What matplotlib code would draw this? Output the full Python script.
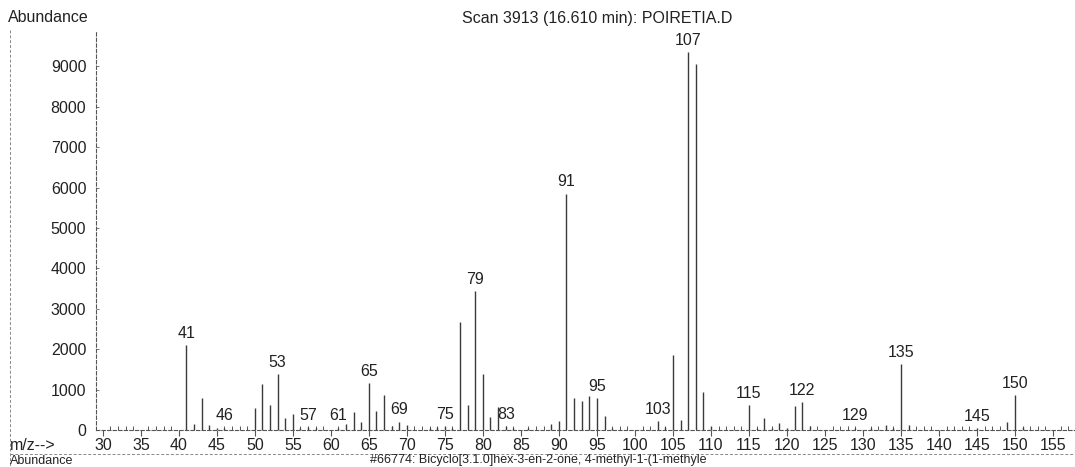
"""
Mass spectrum, scan 3913 of POIRETIA.D, redrawn with matplotlib
"""
from matplotlib import pyplot as plt
from matplotlib.lines import Line2D

# m/z of each ion and its abundance
mz = [41, 42, 43, 44, 45, 46, 50, 51, 52, 53, 54, 55, 56, 57, 58, 61, 62, 63,
      64, 65, 66, 67, 68, 69, 70, 73, 74, 75, 76, 77, 78, 79, 80, 81, 82, 83,
      84, 86, 89, 90, 91, 92, 93, 94, 95, 96, 97, 103, 104, 105, 106, 107,
      108, 109, 110, 115, 116, 117, 118, 119, 120, 121, 122, 123, 129, 131,
      133, 134, 135, 136, 145, 149, 150, 151]
abundance = [2100, 150, 800, 120, 60, 60, 540, 1140, 620, 1380, 290, 390, 60,
             70, 50, 60, 150, 450, 190, 1170, 460, 870, 110, 210, 130, 50, 70,
             100, 60, 2670, 630, 3430, 1380, 320, 570, 90, 50, 40, 150, 230,
             5850, 780, 730, 840, 790, 340, 50, 220, 80, 1850, 250, 9350,
             9050, 950, 100, 620, 60, 290, 60, 180, 60, 590, 700, 110, 60, 50,
             130, 50, 1640, 120, 40, 190, 870, 80]

# peaks that carry an m/z label
labelled = [41, 46, 53, 57, 61, 65, 69, 75, 79, 83, 91, 95, 103, 107, 115,
            122, 129, 135, 145, 150]

x_ticks = list(range(30, 160, 5))
y_ticks = list(range(0, 10000, 1000))

title = "Scan 3913 (16.610 min): POIRETIA.D"
library_hit = "#66774: Bicyclo[3.1.0]hex-3-en-2-one, 4-methyl-1-(1-methyle"


def main():
    plt.rcParams['font.family'] = ['Liberation Sans', 'DejaVu Sans']
    ink = '#222222'

    fig = plt.figure(figsize=(10.75, 4.67), dpi=100)
    W, H = 1075, 467
    # axes box in pixels: x 96..1075, y 30..430 (from top)
    ax = fig.add_axes([96 / W, (H - 430) / H, (W - 96) / W, 400 / H])

    ax.vlines(mz, 0, abundance, colors='#3a3a3a', lw=1.0)

    heights = dict(zip(mz, abundance))
    for m in labelled:
        ax.annotate(str(m), (m, heights[m]), xytext=(0, 3),
                    textcoords='offset points', ha='center', va='bottom',
                    fontsize=11.5, color=ink)

    ax.set_xlim(29.1, 157.9)
    ax.set_ylim(0, 9900)
    ax.set_xticks(x_ticks)
    ax.set_xticks(range(30, 158), minor=True)
    ax.set_yticks(y_ticks)

    for side in ['top', 'right']:
        ax.spines[side].set_visible(False)
    for side in ['left', 'bottom']:
        ax.spines[side].set_linestyle((0, (3, 2)))
        ax.spines[side].set_linewidth(0.8)
        ax.spines[side].set_color('#555555')

    ax.tick_params(axis='x', which='major', direction='out', length=4,
                   width=0.8, color='#555555', labelsize=11.5,
                   labelcolor=ink, pad=1.5)
    ax.tick_params(axis='x', which='minor', direction='in', length=3,
                   width=0.7, color='#555555')
    ax.tick_params(axis='y', direction='in', length=2, width=0.7,
                   color='#777777', labelsize=11.5, labelcolor=ink, pad=7)

    # texts around the plot
    fig.text(8 / W, 1 - 18 / H, "Abundance", ha='left', va='center',
             fontsize=11.5, color=ink)
    fig.text(597 / W, 1 - 18 / H, title, ha='center', va='center',
             fontsize=11.5, color=ink)
    fig.text(10 / W, 1 - 445 / H, "m/z-->", ha='left', va='center',
             fontsize=11.5, color=ink)
    # header of the next panel, squeezed against the page edge
    fig.text(10 / W, 0.5 / H, "Abundance", ha='left', va='bottom',
             fontsize=9, color=ink)
    fig.text(370 / W, 0.5 / H, library_hit, ha='left', va='bottom',
             fontsize=9, color=ink)

    # page frame lines
    fig.add_artist(Line2D([10 / W, 10 / W], [1 - 30 / H, 0],
                          transform=fig.transFigure, color='#888888',
                          lw=0.7, ls=(0, (3, 2))))
    fig.add_artist(Line2D([10 / W, 1], [1 - 454 / H, 1 - 454 / H],
                          transform=fig.transFigure, color='#888888',
                          lw=0.7, ls=(0, (3, 2))))

    plt.savefig('out.png', dpi=100)


if __name__ == "__main__":
    main()
